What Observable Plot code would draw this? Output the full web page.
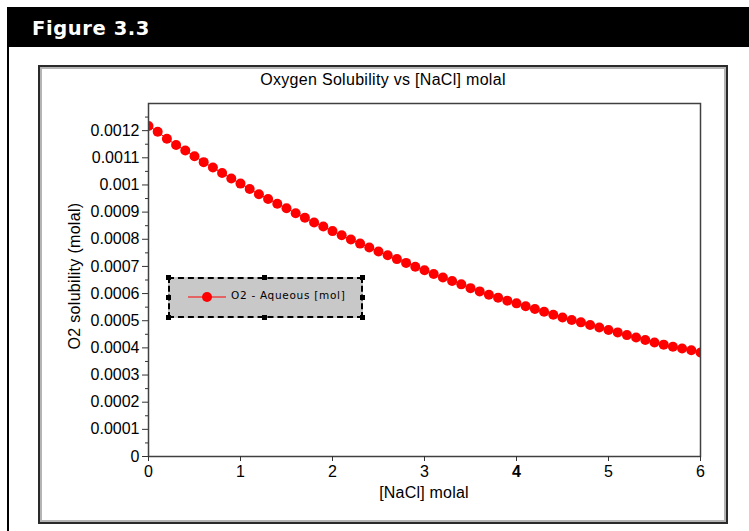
<!DOCTYPE html>
<html>
<head>
<meta charset="utf-8">
<script src="https://cdn.jsdelivr.net/npm/d3@7"></script>
<script src="https://cdn.jsdelivr.net/npm/@observablehq/plot@0.6"></script>
<style>
  html, body { margin: 0; padding: 0; background: #fff; }
  body { width: 749px; height: 531px; position: relative; overflow: hidden; font-family: "Liberation Sans", Arial, sans-serif; }
  .abs { position: absolute; }
  #header { left: 7px; top: 7px; width: 742px; height: 40px; background: #000; }
  #header span { position: absolute; left: 25px; top: 9.5px; line-height: 1; color: #fff; font: bold 19.5px "DejaVu Sans", Verdana, sans-serif; letter-spacing: 0.6px; }
  #pageline { left: 7px; top: 46px; width: 2px; height: 485px; background: #000; }
  #frameOuter { left: 38px; top: 65px; width: 686px; height: 455px; border: 2px solid #2a2a2a; }
  #frameInner { left: 40px; top: 67px; width: 682px; height: 451px; border: 2px solid #b4b4b4; }
  #chart { left: 0; top: 0; }
  #title { left: 38px; width: 690px; top: 71px; text-align: center; font-size: 16px; letter-spacing: 0.3px; }
  #xlabel { left: 148px; width: 552px; top: 484px; text-align: center; font-size: 16px; letter-spacing: 0.2px; }
  #ylabel { left: 75px; top: 276px; transform: translate(-50%, -50%) rotate(-90deg); white-space: nowrap; font-size: 16px; letter-spacing: 0.3px; }
  #legend { left: 168px; top: 277px; width: 191px; height: 37px; background: #c8c8c8; border: 2px dashed #000; }
  .h { position: absolute; width: 5px; height: 5px; background: #000; }
  #legend .txt { position: absolute; left: 61px; top: 10px; font: 10.5px "DejaVu Sans", Verdana, sans-serif; letter-spacing: 0.7px; color: #000; }
  #legend svg { position: absolute; left: 18px; top: 11px; }
</style>
</head>
<body>
<div id="header" class="abs"><span>Figure 3.3</span></div>
<div id="pageline" class="abs"></div>
<div id="frameOuter" class="abs"></div>
<div id="frameInner" class="abs"></div>
<div id="chart" class="abs"></div>
<div id="title" class="abs">Oxygen Solubility vs [NaCl] molal</div>
<div id="xlabel" class="abs">[NaCl] molal</div>
<div id="ylabel" class="abs">O2 solubility (molal)</div>
<div id="legend" class="abs">
  <div class="h" style="left:-4px;top:-4px"></div>
  <div class="h" style="left:92px;top:-4px"></div>
  <div class="h" style="right:-4px;top:-4px"></div>
  <div class="h" style="left:-4px;top:16px"></div>
  <div class="h" style="right:-4px;top:16px"></div>
  <div class="h" style="left:-4px;bottom:-4px"></div>
  <div class="h" style="left:92px;bottom:-4px"></div>
  <div class="h" style="right:-4px;bottom:-4px"></div>
  <svg width="40" height="14"><line x1="0" y1="7" x2="38" y2="7" stroke="red" stroke-width="1"/><circle cx="19" cy="7" r="5" fill="red"/></svg>
  <div class="txt">O2 - Aqueous [mol]</div>
</div>
<script>
// NaCl molality (x) and O2 solubility (molal)
const nacl = [0.0,0.1,0.2,0.3,0.4,0.5,0.6,0.7,0.8,0.9,
  1.0,1.1,1.2,1.3,1.4,1.5,1.6,1.7,1.8,1.9,
  2.0,2.1,2.2,2.3,2.4,2.5,2.6,2.7,2.8,2.9,
  3.0,3.1,3.2,3.3,3.4,3.5,3.6,3.7,3.8,3.9,
  4.0,4.1,4.2,4.3,4.4,4.5,4.6,4.7,4.8,4.9,
  5.0,5.1,5.2,5.3,5.4,5.5,5.6,5.7,5.8,5.9,6.0];
const o2Aqueous = [0.001217,0.001196,0.001170,0.001147,0.001127,0.001106,0.001084,0.001064,0.001044,0.001024,
  0.001005,0.000985,0.000966,0.000948,0.000931,0.000914,0.000896,0.000879,0.000862,0.000847,
  0.000830,0.000815,0.000799,0.000784,0.000770,0.000755,0.000741,0.000727,0.000713,0.000699,
  0.000686,0.000672,0.000659,0.000646,0.000634,0.000620,0.000608,0.000596,0.000585,0.000574,
  0.000564,0.000553,0.000543,0.000533,0.000522,0.000512,0.000503,0.000494,0.000484,0.000475,
  0.000466,0.000457,0.000447,0.000438,0.000429,0.000420,0.000412,0.000404,0.000398,0.000391,0.000383];
const yTicks = [0,0.0001,0.0002,0.0003,0.0004,0.0005,0.0006,0.0007,0.0008,0.0009,0.001,0.0011,0.0012];
const yTickLabels = ["0","0.0001","0.0002","0.0003","0.0004","0.0005","0.0006","0.0007","0.0008","0.0009","0.001","0.0011","0.0012"];
const yMinorTicks = [0.00005,0.00015,0.00025,0.00035,0.00045,0.00055,0.00065,0.00075,0.00085,0.00095,0.00105,0.00115,0.00125];
const xTicks = [0,1,2,3,4,5,6];
const xTickLabels = ["0","1","2","3","4","5","6"];

const data = nacl.map((x, i) => ({x, y: o2Aqueous[i]}));

const chart = Plot.plot({
  width: 749,
  height: 531,
  marginLeft: 148,
  marginRight: 49,
  marginTop: 103,
  marginBottom: 75,
  style: {background: "transparent", fontFamily: "'Liberation Sans', Arial, sans-serif", fontSize: "16px", color: "#000"},
  x: {domain: [0, 6]},
  y: {domain: [0, 0.0013]},
  marks: [
    Plot.line(data, {x: "x", y: "y", stroke: "red", strokeWidth: 1, clip: true}),
    Plot.dot(data, {x: "x", y: "y", r: 5, fill: "red", stroke: "none", clip: true}),
    Plot.frame({stroke: "#404040", strokeWidth: 1.5}),
    Plot.axisY({ticks: yTicks, tickFormat: d => yTickLabels[yTicks.indexOf(d)], tickSize: 6, tickPadding: 3, label: null, stroke: "#333", fill: "#000"}),
    Plot.axisY({ticks: yMinorTicks, tickFormat: () => "", tickSize: 3, label: null, stroke: "#333"}),
    Plot.axisX({ticks: xTicks, tickFormat: d => xTickLabels[xTicks.indexOf(d)], tickSize: 5, tickPadding: 4, label: null, stroke: "#333", fill: "#000"})
  ]
});
document.getElementById("chart").appendChild(chart);
d3.select(chart).selectAll("text").filter(function() { return this.textContent === "4"; }).style("font-weight", "bold");
</script>
</body>
</html>
